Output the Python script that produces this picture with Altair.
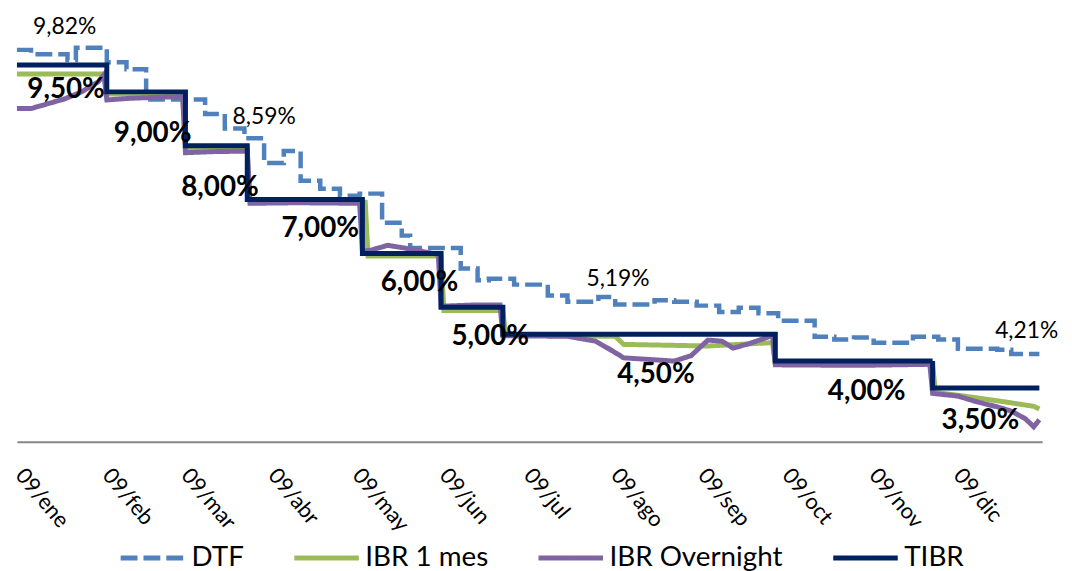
import json
import altair as alt
import pandas as pd

# ---------------- data ----------------
series_names = ["DTF", "IBR 1 mes", "IBR Overnight", "TIBR"]
series_colors = ["#4F81BD", "#9BBB59", "#8064A2", "#002060"]
series_dashes = [[17, 6], [1, 0], [1, 0], [1, 0]]

month_labels = ["09/ene", "09/feb", "09/mar", "09/abr", "09/may", "09/jun",
                "09/jul", "09/ago", "09/sep", "09/oct", "09/nov", "09/dic"]

# day offsets from 2009-01-01
tibr_day = [0, 32, 60, 82, 123, 151, 173, 270, 326, 364]
tibr_val = [9.5, 9.0, 8.0, 7.0, 6.0, 5.0, 4.5, 4.0, 3.5, 3.5]

dtf_day = [0, 5, 18, 21, 32, 39, 46, 67, 74, 81, 88, 95, 101, 108, 115, 122,
           130, 137, 140, 158, 164, 168, 177, 189, 196, 207, 213, 227, 234,
           242, 250, 257, 264, 271, 284, 291, 298, 305, 319, 328, 335, 349,
           354, 364]
dtf_val = [9.78, 9.70, 9.59, 9.82, 9.55, 9.42, 8.86, 8.59, 8.32, 8.14, 7.68,
           7.90, 7.35, 7.20, 7.07, 7.11, 6.57, 6.33, 6.10, 5.72, 5.50, 5.53,
           5.42, 5.22, 5.10, 5.19, 5.05, 5.13, 5.10, 5.03, 4.91, 4.99, 4.89,
           4.75, 4.45, 4.40, 4.44, 4.34, 4.45, 4.40, 4.23, 4.21, 4.13, 4.13]

ibr1_day = [0, 31, 32, 59, 60, 82, 83, 124, 125, 151, 152, 173, 174, 213,
            216, 246, 268, 269, 270, 326, 327, 340, 352, 362, 364]
ibr1_val = [9.33, 9.33, 8.96, 8.96, 7.94, 7.94, 6.95, 6.95, 5.95, 5.95, 4.94,
            4.94, 4.48, 4.46, 4.31, 4.28, 4.34, 4.34, 3.94, 3.94, 3.42, 3.33,
            3.24, 3.16, 3.11]

ibron_day = [0, 5, 11, 17, 23, 29, 31, 32, 40, 50, 59, 60, 70, 82, 83, 100,
             122, 123, 126, 132, 138, 148, 150, 151, 162, 172, 173, 196, 206,
             212, 216, 234, 240, 246, 251, 255, 261, 266, 269, 270, 300, 325,
             326, 335, 342, 349, 354, 359, 361, 362, 364]
ibron_val = [8.69, 8.69, 8.78, 8.87, 9.00, 9.19, 9.32, 8.85, 8.88, 8.90, 8.91,
             7.87, 7.89, 7.90, 6.93, 6.94, 6.93, 6.04, 6.06, 6.15, 6.10, 6.00,
             5.98, 5.02, 5.04, 5.04, 4.47, 4.46, 4.37, 4.19, 4.06, 4.00, 4.10,
             4.39, 4.37, 4.24, 4.33, 4.42, 4.48, 3.93, 3.92, 3.94, 3.40, 3.35,
             3.24, 3.15, 3.07, 2.93, 2.83, 2.78, 2.91]

reg_text = ["9,82%", "8,59%", "5,19%", "4,21%"]
reg_day = [17, 88, 214, 359.5]
reg_val = [10.20, 8.54, 5.52, 4.55]

bold_text = ["9,50%", "9,00%", "8,00%", "7,00%", "6,00%", "5,00%", "4,50%",
             "4,00%", "3,50%"]
bold_day = [17.5, 48.3, 72.3, 108.0, 143.3, 168.5, 227.5, 302.5, 343.0]
bold_val = [9.04, 8.21, 7.22, 6.45, 5.45, 4.44, 3.74, 3.42, 2.89]

# ---------------- helpers ----------------
BASE = pd.Timestamp("2009-01-01")


def to_iso(days):
    return [(BASE + pd.Timedelta(days=float(d))).strftime("%Y-%m-%dT%H:%M:%SZ")
            for d in days]


def frame(name, days, vals):
    return pd.DataFrame({"date": to_iso(days), "value": vals, "series": name})


lines = pd.concat([
    frame("DTF", dtf_day, dtf_val),
    frame("IBR 1 mes", ibr1_day, ibr1_val),
    frame("IBR Overnight", ibron_day, ibron_val),
    frame("TIBR", tibr_day, tibr_val),
], ignore_index=True)

reg_df = pd.DataFrame({"date": to_iso(reg_day), "value": reg_val, "label": reg_text})
bold_df = pd.DataFrame({"date": to_iso(bold_day), "value": bold_val, "label": bold_text})

FONT = "Lato"

x_domain = [alt.DateTime(year=2009, month=1, date=1, utc=True),
            alt.DateTime(year=2010, month=1, date=1, utc=True)]
tick_vals = [alt.DateTime(year=2009, month=m, date=1, utc=True) for m in range(1, 13)]

x_enc = alt.X(
    "date:T",
    scale=alt.Scale(type="utc", domain=x_domain),
    axis=alt.Axis(
        values=tick_vals,
        labelExpr=json.dumps(month_labels) + "[utcmonth(datum.value)]",
        labelAngle=50, labelAlign="left", labelBaseline="top",
        labelPadding=23, labelOffset=10,
        labelFont=FONT, labelFontSize=22, labelColor="black",
        ticks=False, grid=False, title=None,
        domainColor="#868686", domainWidth=2,
    ),
)
y_enc = alt.Y("value:Q", scale=alt.Scale(domain=[2.5, 10.5], nice=False, zero=False),
              axis=None)
color_enc = alt.Color("series:N", scale=alt.Scale(domain=series_names, range=series_colors),
                      title=None)
dash_enc = alt.StrokeDash("series:N", scale=alt.Scale(domain=series_names, range=series_dashes),
                          title=None)

base = alt.Chart(lines).encode(x=x_enc, y=y_enc, color=color_enc, strokeDash=dash_enc)

dtf_layer = base.transform_filter(alt.datum.series == "DTF").mark_line(
    interpolate="step-after", strokeWidth=4.5)
ibr1_layer = base.transform_filter(alt.datum.series == "IBR 1 mes").mark_line(strokeWidth=5)
ibron_layer = base.transform_filter(alt.datum.series == "IBR Overnight").mark_line(strokeWidth=5)
tibr_layer = base.transform_filter(alt.datum.series == "TIBR").mark_line(
    interpolate="step-after", strokeWidth=5)

reg_layer = alt.Chart(reg_df).mark_text(
    font=FONT, fontSize=23, color="black", align="center", baseline="middle"
).encode(x=alt.X("date:T"), y=alt.Y("value:Q"), text="label:N")

bold_layer = alt.Chart(bold_df).mark_text(
    font=FONT, fontSize=28, fontWeight="bold", color="black", align="center", baseline="middle"
).encode(x=alt.X("date:T"), y=alt.Y("value:Q"), text="label:N")

chart = alt.layer(
    dtf_layer, ibr1_layer, ibron_layer, tibr_layer, reg_layer, bold_layer
).properties(
    width=1033, height=434,
    padding={"left": 9, "top": 1, "right": 22, "bottom": 128},
    autosize=alt.AutoSizeParams(type="none"),
).configure_view(stroke=None).configure_legend(
    orient="none", legendX=102, legendY=516, direction="horizontal",
    symbolType="stroke", symbolSize=4225, symbolStrokeWidth=5,
    labelFont=FONT, labelFontSize=28, labelColor="black", labelLimit=0,
    labelOffset=4, columnPadding=40, padding=0,
)

chart.save("out.html", embed_options={"renderer": "svg", "actions": False})
